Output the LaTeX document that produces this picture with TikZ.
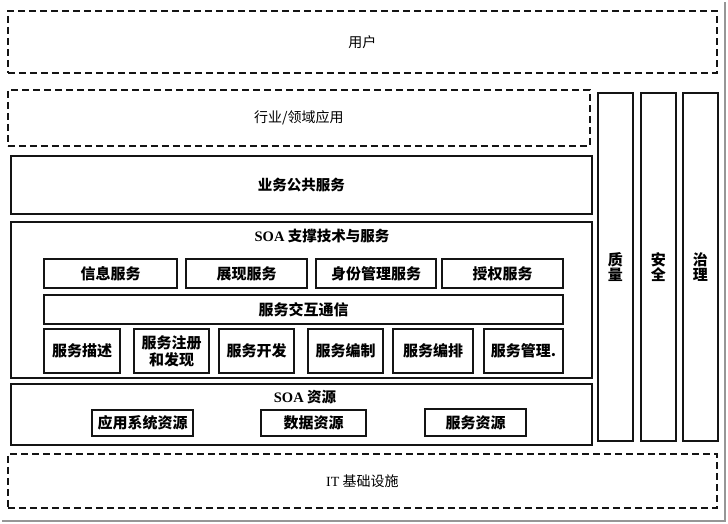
\documentclass[tikz,border=0pt]{standalone}
\usepackage{fontspec}
\setmainfont{Liberation Serif}
\newfontfamily\cjk{Noto Sans CJK SC}
\usepackage{tikz}
\usetikzlibrary{positioning}
\definecolor{inkblack}{RGB}{20,20,20}
\definecolor{shadowgray}{RGB}{150,150,150}
\newcommand{\lat}[1]{{\rmfamily #1}}

\begin{document}
\begin{tikzpicture}[x=1pt, y=-1pt, font=\cjk\fontsize{14}{16}\selectfont,
  every node/.style={align=center},
  layer/.style={draw=inkblack, line width=1.8pt, dash pattern=on 7pt off 4pt, anchor=north west, inner sep=0pt},
  tier/.style={draw=inkblack, line width=1.7pt, anchor=north west, inner sep=0pt},
  cell/.style={draw=inkblack, line width=2pt, anchor=north west, inner sep=0pt, font=\cjk\bfseries\fontsize{15}{17}\selectfont},
  pillar/.style={draw=inkblack, line width=1.8pt, anchor=north west, inner sep=0pt, minimum width=35pt, minimum height=348pt, font=\cjk\bfseries\fontsize{15}{15}\selectfont},
  head/.style={font=\cjk\bfseries\fontsize{14.5}{16}\selectfont}]
\useasboundingbox (0,0) rectangle (728,524);
\draw[shadowgray, line width=2pt] (2,521) -- (725,521) -- (725,2);
% outer layers
\node[layer, minimum width=709pt, minimum height=62pt] (user) at (7,10) {};
\node at (user.center) {用户};
\node[layer, minimum width=582pt, minimum height=56pt] (industry) at (7,89) {};
\node at (industry.center) {行业/领域应用};
\node[tier, minimum width=581pt, minimum height=58pt, head] (biz) at (10,155) {业务公共服务};
% SOA support
\node[tier, minimum width=581pt, minimum height=156pt] (soa) at (10,221) {};
\node[head] (soatitle) at (322,236) {\lat{SOA} 支撑技术与服务};
\node[cell, minimum width=133pt, minimum height=29pt] (info) at (43,258) {信息服务};
\node[cell, minimum width=121pt, minimum height=29pt] (show) at (185,258) {展现服务};
\node[cell, minimum width=120pt, minimum height=29pt] (ident) at (315,258) {身份管理服务};
\node[cell, minimum width=121pt, minimum height=29pt] (auth) at (441,258) {授权服务};
\node[cell, minimum width=519pt, minimum height=29pt] (comm) at (43,294) {服务交互通信};
\node[cell, minimum width=76pt, minimum height=44pt] (desc) at (43,328) {服务描述};
\node[cell, minimum width=75pt, minimum height=44pt] (reg) at (133,328) {服务注册\\和发现};
\node[cell, minimum width=75pt, minimum height=44pt] (dev) at (218,328) {服务开发};
\node[cell, minimum width=75pt, minimum height=44pt] (orch) at (307,328) {服务编制};
\node[cell, minimum width=80pt, minimum height=44pt] (chor) at (392,328) {服务编排};
\node[cell, minimum width=79pt, minimum height=44pt] (mgmt) at (483,328) {服务管理.};
% SOA resources
\node[tier, minimum width=581pt, minimum height=61pt] (res) at (10,383) {};
\node[head] (restitle) at (305,397) {\lat{SOA} 资源};
\node[cell, minimum width=101pt, minimum height=26pt] (appres) at (91,409) {应用系统资源};
\node[cell, minimum width=105pt, minimum height=26pt] (datares) at (260,409) {数据资源};
\node[cell, minimum width=101pt, minimum height=27pt] (svcres) at (424,408) {服务资源};
% pillars
\node[pillar] (quality) at (597,92) {质\\量};
\node[pillar] (safety) at (640,92) {安\\全};
\node[pillar] (govern) at (682,92) {治\\理};
% infrastructure
\node[layer, minimum width=709pt, minimum height=54pt] (infra) at (7,453) {};
\node at (infra.center) {\lat{IT} 基础设施};
\end{tikzpicture}
\end{document}
